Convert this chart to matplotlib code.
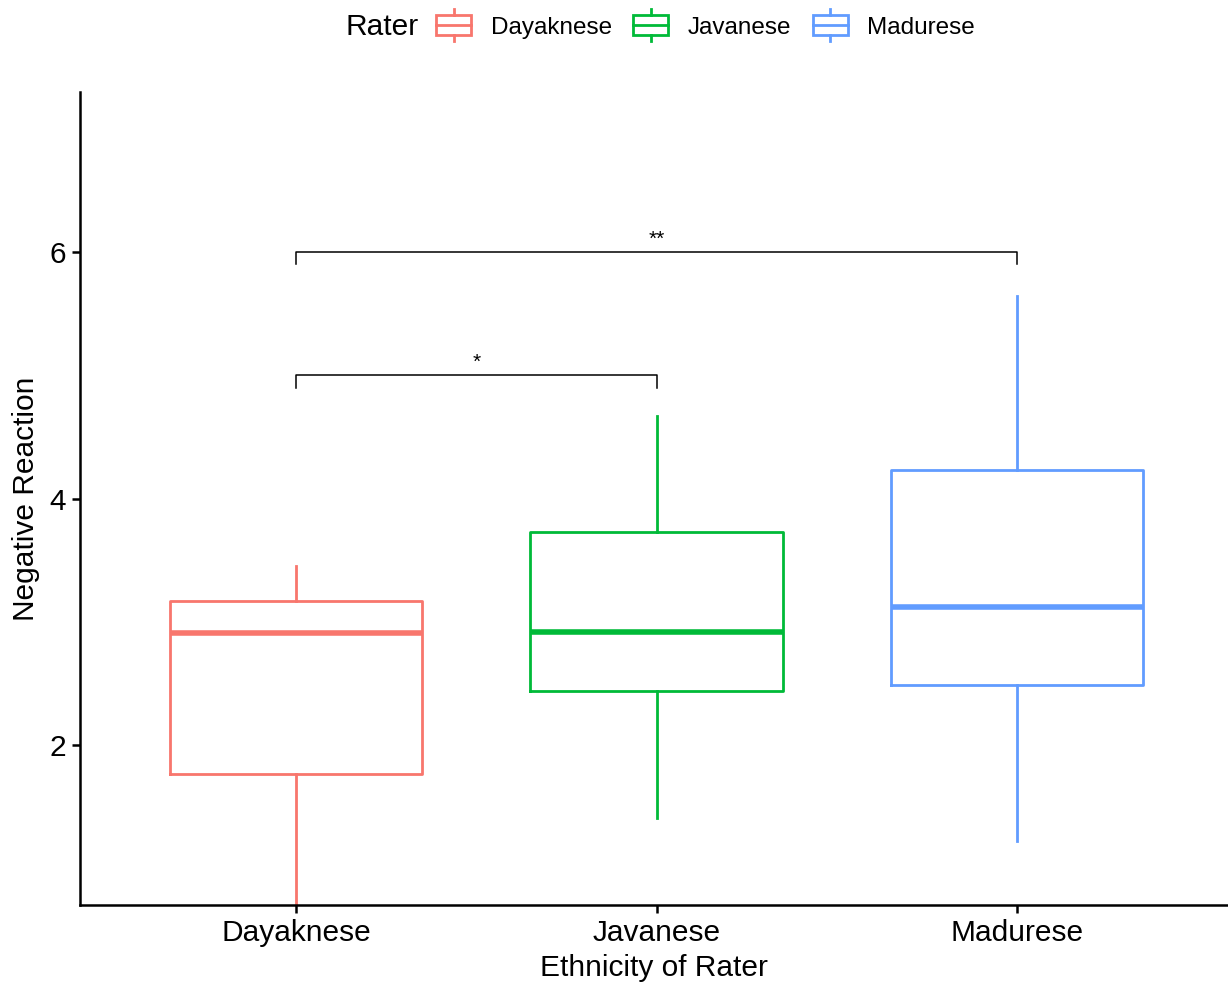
import matplotlib
matplotlib.use("Agg")
import matplotlib.pyplot as plt
from matplotlib.patches import Rectangle
from matplotlib.lines import Line2D
from matplotlib.legend_handler import HandlerBase

plt.rcParams['font.family'] = ['Liberation Sans', 'DejaVu Sans']

categories = ["Dayaknese", "Javanese", "Madurese"]
colors = ["#F8766D", "#00BA38", "#619CFF"]
whislo = [0.70, 1.41, 1.22]
q1 = [1.76, 2.44, 2.49]
med = [2.91, 2.92, 3.12]
q3 = [3.17, 3.73, 4.23]
whishi = [3.45, 4.67, 5.64]

comparisons = [(0, 1, 5.0, "*"), (0, 2, 6.0, "**")]
yticks = [2, 4, 6]

fig = plt.figure(figsize=(12.28, 9.82), dpi=100)
ax = fig.add_axes([80/1228, 77/982, 1 - 80/1228, (905-92)/982])

for i, cat in enumerate(categories):
    stats = [dict(med=med[i], q1=q1[i], q3=q3[i], whislo=whislo[i], whishi=whishi[i], fliers=[], label=cat)]
    ax.bxp(stats, positions=[i], widths=0.7, showcaps=False, showfliers=False,
           boxprops=dict(color=colors[i], linewidth=2.0),
           whiskerprops=dict(color=colors[i], linewidth=2.0),
           medianprops=dict(color=colors[i], linewidth=4.0, solid_capstyle='butt'),
           manage_ticks=False)

for a, b, y, lab in comparisons:
    h = 0.1
    ax.plot([a, a, b, b], [y - h, y, y, y - h], color='black', lw=1.1, clip_on=False)
    ax.text((a + b) / 2, y + 0.03, lab, ha='center', va='bottom', fontsize=15)

ax.set_xlim(-0.6, 2.586)
ax.set_ylim(0.70, 7.30)
ax.set_xticks(range(len(categories)))
ax.set_xticklabels(categories)
ax.set_yticks(yticks)
ax.tick_params(axis='both', labelsize=21.5, length=6, width=1.8, direction='out', colors='black', pad=4)
for s in ['top', 'right']:
    ax.spines[s].set_visible(False)
for s in ['left', 'bottom']:
    ax.spines[s].set_linewidth(1.8)
ax.set_xlabel("Ethnicity of Rater", fontsize=21.5, labelpad=5)
ax.set_ylabel("Negative Reaction", fontsize=21.5, labelpad=7)


class BoxHandler(HandlerBase):
    def __init__(self, color):
        super().__init__()
        self.color = color

    def create_artists(self, legend, orig_handle, xdescent, ydescent, width, height, fontsize, trans):
        c = self.color
        cx = width / 2 - xdescent
        bh = height
        by = -ydescent
        ext = height * 0.3
        arts = [
            Rectangle((-xdescent, by), width, bh, fill=False, edgecolor=c, lw=2.0, transform=trans),
            Line2D([-xdescent, width - xdescent], [by + bh / 2] * 2, color=c, lw=2.0, transform=trans),
            Line2D([cx, cx], [by + bh, by + bh + ext], color=c, lw=2.0, transform=trans),
            Line2D([cx, cx], [by, by - ext], color=c, lw=2.0, transform=trans),
        ]
        return arts


fig.text(345/1228, 1 - 27/982, "Rater", fontsize=21.5, ha='left', va='center')
handles = [Rectangle((0, 0), 1, 1) for _ in categories]
hmap = {h: BoxHandler(c) for h, c in zip(handles, colors)}
leg = fig.legend(handles, categories, handler_map=hmap, loc='center left',
                 bbox_to_anchor=(436/1228, 1 - 27/982), borderpad=0, borderaxespad=0,
                 ncol=3, frameon=False, fontsize=17.5,
                 handlelength=1.45, handleheight=0.9, handletextpad=0.8, columnspacing=0.88)

fig.savefig("out.png", dpi=100)
